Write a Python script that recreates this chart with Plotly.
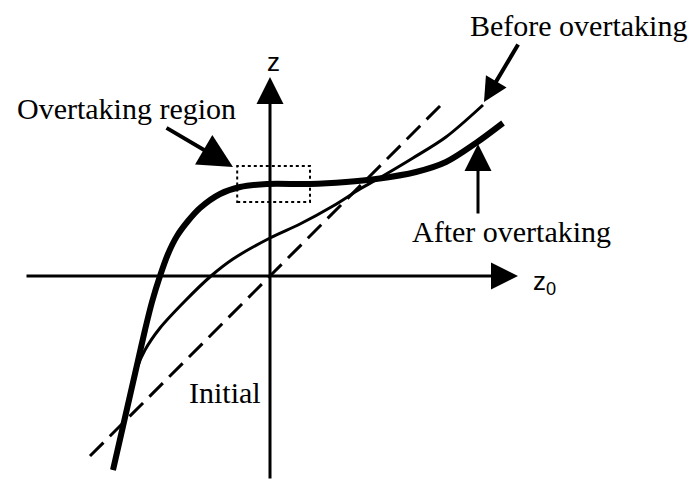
import plotly.graph_objects as go

# Initial profile: the identity line z = z0
initial_z0 = [-4.5, 4.4]
initial_z = [-4.5, 4.4]

# Profile before overtaking (thin curve)
before_z0 = [-3.925, -3.725, -3.525, -3.325, -3.125, -2.75, -2.125, -1.475, -0.925, 0.0, 0.75, 1.575, 2.25, 2.65, 3.575, 4.4, 5.325]
before_z = [-4.85, -3.975, -3.1, -2.3, -1.85, -1.3, -0.625, 0.0, 0.425, 0.95, 1.3, 1.75, 2.175, 2.4, 2.95, 3.475, 4.275]

# Profile after overtaking (thick curve with the flat plateau)
after_z0 = [-3.925, -3.725, -3.525, -3.325, -3.125, -2.95, -2.75, -2.55, -2.325, -2.05, -1.75, -1.25, -0.75,
            -0.075, 1.0, 1.9, 2.65, 3.65, 4.4, 5.15, 5.825]
after_z = [-4.85, -3.975, -3.1, -2.225, -1.35, -0.65, 0.0, 0.55, 1.0, 1.375, 1.7, 2.05, 2.225,
           2.3, 2.3, 2.35, 2.425, 2.6, 2.85, 3.325, 3.825]

# Extent of the overtaking region box
region_z0 = [-0.82, 1.0]
region_z = [1.85, 2.75]

# Axis extents
axis_z0 = [-6.125, 6.2]
axis_z = [-5.1, 4.975]

fig = go.Figure()

fig.add_trace(go.Scatter(
    x=initial_z0, y=initial_z, mode="lines",
    line=dict(color="black", width=3, dash="19px,9px"),
    hoverinfo="skip",
))
fig.add_trace(go.Scatter(
    x=before_z0, y=before_z, mode="lines",
    line=dict(color="black", width=3, shape="spline", smoothing=0.9),
    hoverinfo="skip",
))
fig.add_trace(go.Scatter(
    x=after_z0, y=after_z, mode="lines",
    line=dict(color="black", width=6, shape="spline", smoothing=0.9),
    hoverinfo="skip",
))

fig.add_shape(
    type="rect", xref="x", yref="y",
    x0=region_z0[0], x1=region_z0[1], y0=region_z[0], y1=region_z[1],
    line=dict(color="black", width=2, dash="dot"),
)


def arrow(tip, tail, width, size):
    fig.add_annotation(
        x=tip[0], y=tip[1], ax=tail[0], ay=tail[1],
        xref="x", yref="y", axref="x", ayref="y",
        text="", showarrow=True, arrowhead=2,
        arrowwidth=width, arrowsize=size, arrowcolor="black", standoff=0,
    )


# Coordinate axes
arrow((axis_z0[1], 0), (axis_z0[0], 0), 3, 1.8)
arrow((0, axis_z[1]), (0, axis_z[0]), 3, 1.8)

# Pointer arrows
arrow((-0.925, 2.725), (-2.625, 3.725), 4, 1.7)
arrow((5.35, 4.35), (6.225, 5.825), 4, 1.2)
arrow((5.2, 3.3), (5.2, 1.525), 3, 1.8)

serif = dict(family="Liberation Serif", size=30, color="black")
sans = dict(family="Liberation Sans", size=26, color="black")


def label(x, y, text, font, xanchor="left"):
    fig.add_annotation(
        x=x, y=y, xref="x", yref="y", text=text, showarrow=False,
        font=font, xanchor=xanchor, yanchor="middle",
    )


label(-6.375, 4.2, "Overtaking region", serif)
label(10.475, 6.275, "Before overtaking", serif, xanchor="right")
label(3.5, 1.125, "After overtaking", serif)
label(-2.075, -2.9, "Initial", serif)
label(0.075, 5.35, "z", sans, xanchor="center")
label(6.525, -0.15, "z<sub>0</sub>", sans)

fig.update_layout(
    width=692, height=483,
    margin=dict(l=0, r=0, t=0, b=0),
    paper_bgcolor="white", plot_bgcolor="white",
    showlegend=False,
    xaxis=dict(range=[-6.75, 10.55], visible=False, fixedrange=True),
    yaxis=dict(range=[-5.175, 6.9], visible=False, fixedrange=True),
)

fig.write_html("out.html")
